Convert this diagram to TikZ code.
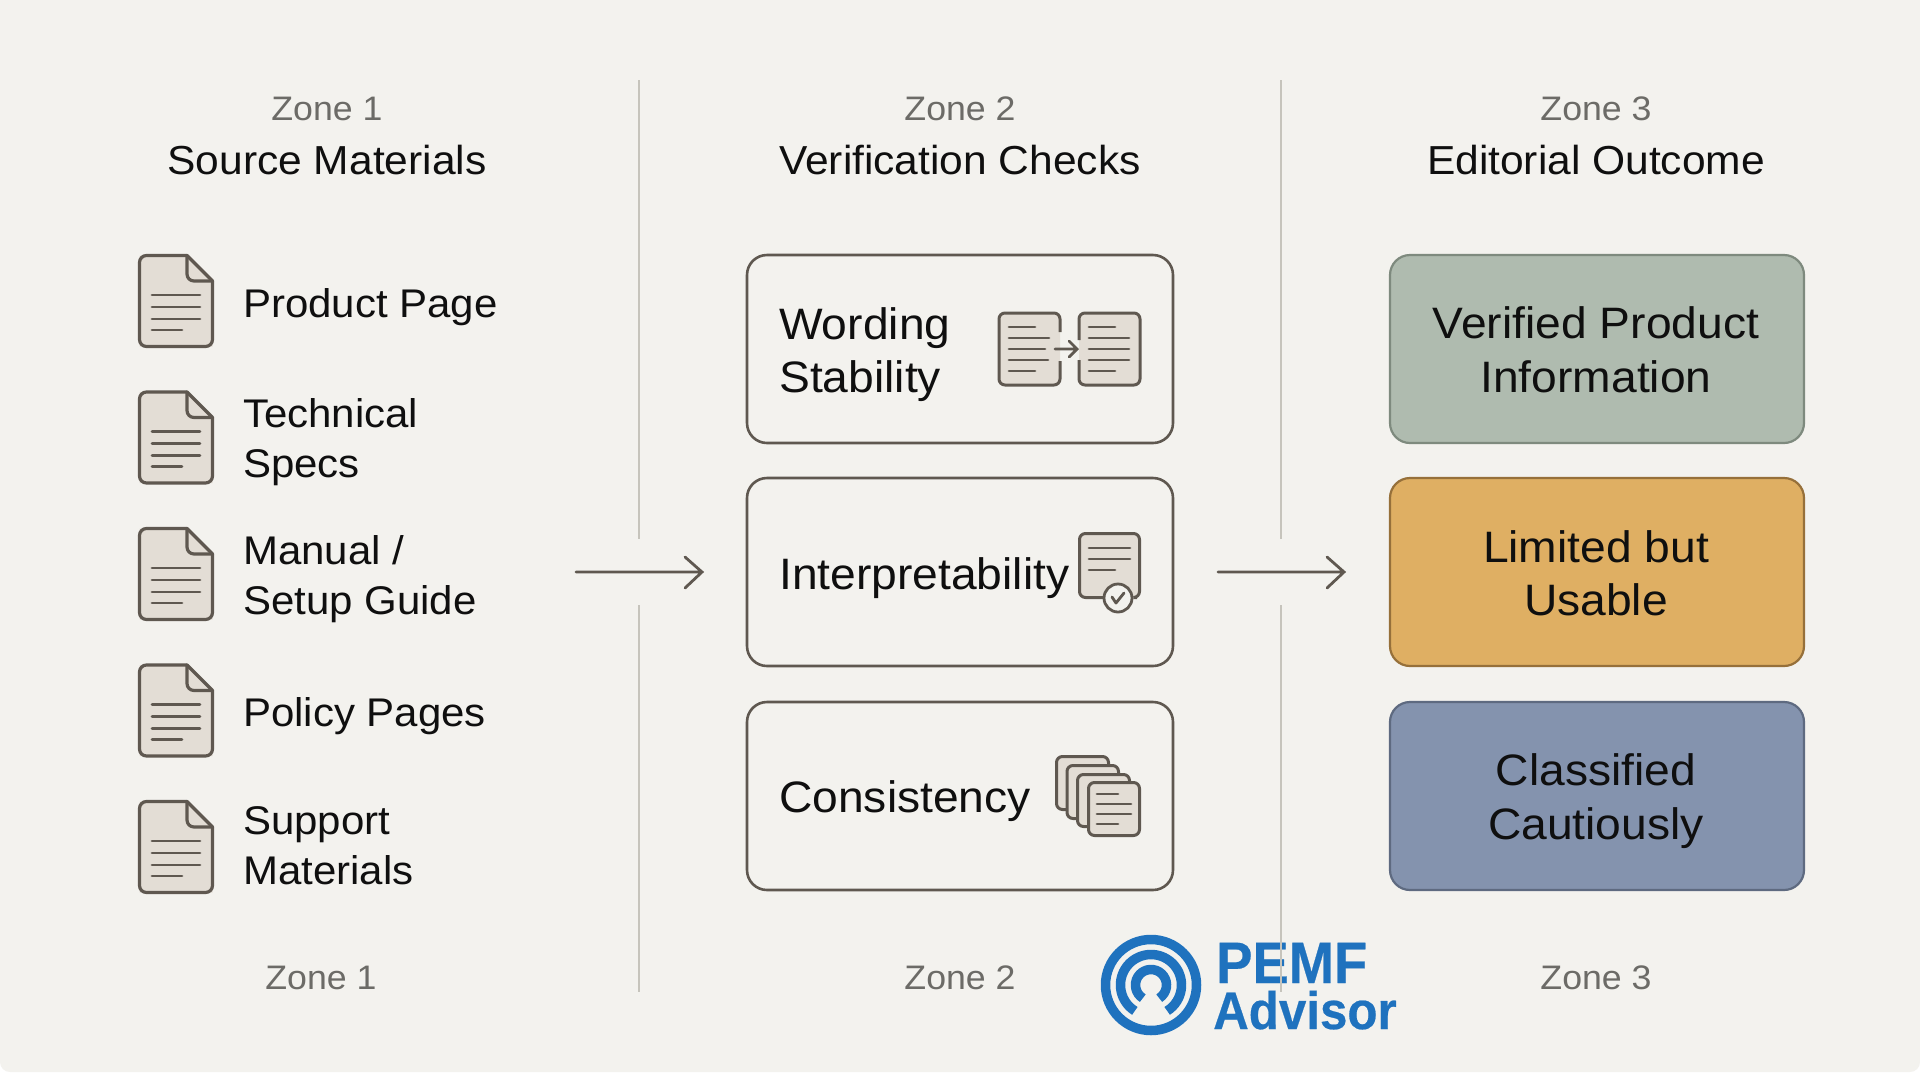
\documentclass[tikz,border=0pt]{standalone}
\usepackage{fontspec}
\setmainfont{Liberation Sans}[FakeStretch=1.05]
\newfontfamily\logofont{Liberation Sans}[FakeStretch=0.93,FakeBold=0.4]
\definecolor{bgc}{HTML}{F3F2EE}
\definecolor{ink}{HTML}{5F5850}
\definecolor{paper}{HTML}{E3DDD5}
\definecolor{divc}{HTML}{C6C4BC}
\definecolor{zonec}{HTML}{6C6B67}
\definecolor{txtc}{HTML}{0F0F0F}
\definecolor{greenb}{HTML}{AFBBAF}
\definecolor{greene}{HTML}{7E8A7E}
\definecolor{orangeb}{HTML}{DFAF63}
\definecolor{orangee}{HTML}{96703A}
\definecolor{blueb}{HTML}{8493AE}
\definecolor{bluee}{HTML}{5E6A80}
\definecolor{logoc}{HTML}{1F72BE}
\tikzset{
  zonelabel/.style={text=zonec,font=\fontsize{34}{40}\selectfont,inner sep=0pt,anchor=center},
  title/.style={text=txtc,font=\fontsize{40.5}{46}\selectfont,inner sep=0pt,anchor=center},
  item/.style={text=txtc,font=\fontsize{40}{50}\selectfont,inner sep=0pt,anchor=west,align=left},
  checkbox/.style={draw=ink,line width=2.6pt,rounded corners=20pt,fill=bgc},
  outcome/.style={line width=2.2pt,rounded corners=20pt},
  outcometext/.style={text=txtc,font=\fontsize{44}{53.5}\selectfont,inner sep=0pt,align=center,anchor=center},
  checktext/.style={text=txtc,font=\fontsize{44}{53.5}\selectfont,inner sep=0pt,align=left,anchor=west},
  divider/.style={draw=divc,line width=2pt},
  flow/.style={draw=ink,line width=2.8pt,line cap=round,line join=miter},
  iconl/.style={draw=ink,line width=2.8pt,line cap=round},
  icono/.style={draw=ink,line width=3.2pt,line cap=round},
  icond/.style={draw=ink,line width=3pt,fill=paper,rounded corners=6pt},
  logoring/.style={draw=logoc,line width=9.5pt,fill=none},
}
\newcommand{\docicon}[2]{%
  \begin{scope}[shift={(#1,#2)}]
    \fill[paper] (0,0) -- (47.5,0) -- (73,25.5) -- (73,91) -- (0,91) -- cycle;
    \draw[icono,rounded corners=7pt,line join=round] (47.5,0) -- (0,0) -- (0,91) -- (73,91) -- (73,25.5);
    \draw[icono,line join=round] (47.5,0) -- (73,25.5);
    \draw[icono,rounded corners=7pt] (47.5,0) -- (47.5,25.5) -- (73,25.5);
    \draw[iconl] (12.5,39.5) -- (60.5,39.5) (12.5,51.5) -- (60.5,51.5) (12.5,63.5) -- (60.5,63.5) (12.5,74.5) -- (42.5,74.5);
  \end{scope}}
\begin{document}
\begin{tikzpicture}[x=1pt,y=-1pt]
\useasboundingbox (0,0) rectangle (1920,1072);
\fill[white] (0,0) rectangle (1920,1072);
\fill[bgc,rounded corners=10pt] (0,-30) rectangle (1920,1072);

% logo (the divider runs over it)
\draw[logoring] (1151,985) circle[radius=45.5pt];
\draw[logoring] (1151,985) ++(238:30.5pt) arc[start angle=238,end angle=-58,radius=30.5pt];
\draw[logoring] (1151,985) ++(238:15.5pt) arc[start angle=238,end angle=-58,radius=15.5pt];
\node[inner sep=0pt,anchor=base west,text=logoc,font=\logofont\bfseries\fontsize{58.5}{58}\selectfont] (pemf) at (1216,983) {PEMF};
\node[inner sep=0pt,anchor=base west,text=logoc,font=\logofont\bfseries\fontsize{53}{53}\selectfont] (advisor) at (1213,1029) {Advisor};

% dividers
\coordinate (d1a) at (639,80); \coordinate (d1b) at (639,539);
\coordinate (d1c) at (639,605); \coordinate (d1d) at (639,992);
\coordinate (d2a) at (1281,80); \coordinate (d2b) at (1281,539);
\coordinate (d2c) at (1281,605); \coordinate (d2d) at (1281,992);
\draw[divider] (d1a) -- (d1b) (d1c) -- (d1d) (d2a) -- (d2b) (d2c) -- (d2d);

% headers
\node[zonelabel] (z1t) at (327,108.5) {Zone 1};
\node[title] (t1) at (327,160) {Source Materials};
\node[zonelabel] (z2t) at (960,108.5) {Zone 2};
\node[title] (t2) at (960,160) {Verification Checks};
\node[zonelabel] (z3t) at (1596,108.5) {Zone 3};
\node[title] (t3) at (1596,160) {Editorial Outcome};
\node[zonelabel] (z1b) at (321,978) {Zone 1};
\node[zonelabel] (z2b) at (960,978) {Zone 2};
\node[zonelabel] (z3b) at (1596,978) {Zone 3};

% source items
\docicon{139.5}{255.5}\docicon{139.5}{392}\docicon{139.5}{528.5}\docicon{139.5}{665}\docicon{139.5}{801.5}
\node[item] (s1) at (243,307) {Product Page};
\node[item] (s2) at (243,442.5) {Technical\\Specs};
\node[item] (s3) at (243,579.5) {Manual /\\Setup Guide};
\node[item] (s4) at (243,716) {Policy Pages};
\node[item] (s5) at (243,846) {Support\\Materials};

% check boxes
\draw[checkbox] (747,255) rectangle (1173,443);
\draw[checkbox] (747,478) rectangle (1173,666);
\draw[checkbox] (747,702) rectangle (1173,890);
\node[checktext] (c1) at (779,354.5) {Wording\\Stability};
\node[checktext] (c2) at (779,578) {Interpretability};
\node[checktext] (c3) at (779,801.5) {Consistency};

% wording icon
\fill[paper,rounded corners=6pt] (999,313) rectangle (1060,385);
\fill[paper,rounded corners=6pt] (1079,313) rectangle (1140,385);
\draw[icond,fill=none] (1060,332) -- (1060,313) -- (999,313) -- (999,385) -- (1060,385) -- (1060,361);
\draw[icond,fill=none] (1079,340) -- (1079,313) -- (1140,313) -- (1140,385) -- (1079,385) -- (1079,360);
\draw[iconl] (1009,327) -- (1035,327) (1009,338) -- (1049,338) (1009,349) -- (1045,349) (1009,360) -- (1048,360) (1009,371) -- (1035,371);
\draw[iconl] (1089,327) -- (1115,327) (1089,338) -- (1129,338) (1089,349) -- (1129,349) (1089,360) -- (1129,360) (1089,371) -- (1115,371);
\draw[iconl,line join=miter] (1055,349) -- (1077,349) (1069,341) -- (1077,349) -- (1069,357);

% interpretability icon
\fill[paper,rounded corners=6pt] (1079.5,533.5) rectangle (1139.5,597.5);
\draw[icond,fill=none] (1103,597.5) -- (1079.5,597.5) -- (1079.5,533.5) -- (1139.5,533.5) -- (1139.5,597.5) -- (1137,597.5);
\draw[iconl] (1089,548) -- (1130,548) (1089,559) -- (1130,559) (1089,570) -- (1115,570);
\draw[iconl,fill=bgc] (1118,598) circle[radius=14pt];
\draw[iconl,line join=round] (1112,597) -- (1116,603) -- (1124,593);

% consistency icon
\draw[icond] (1056.5,756.5) rectangle (1108.5,809.5);
\draw[icond] (1067,765.5) rectangle (1118.5,818.5);
\draw[icond] (1077.5,774.5) rectangle (1129.5,826.5);
\draw[icond] (1088.5,782.5) rectangle (1139.5,835.5);
\draw[iconl] (1097,794) -- (1118,794) (1097,804) -- (1131,804) (1097,814) -- (1131,814) (1097,824) -- (1118,824);

% outcomes
\draw[outcome,fill=greenb,draw=greene] (1390,255) rectangle (1804,443);
\draw[outcome,fill=orangeb,draw=orangee] (1390,478) rectangle (1804,666);
\draw[outcome,fill=blueb,draw=bluee] (1390,702) rectangle (1804,890);
\node[outcometext] (o1) at (1596,350) {Verified Product\\Information};
\node[outcometext] (o2) at (1596,573.5) {Limited but\\Usable};
\node[outcometext] (o3) at (1596,801) {Classified\\Cautiously};

% arrows
\coordinate (a1s) at (576,572); \coordinate (a1e) at (702,572);
\coordinate (a2s) at (1218,572); \coordinate (a2e) at (1344,572);
\draw[flow] (a1s) -- (a1e) (685,557) -- (a1e) -- (685,588);
\draw[flow] (a2s) -- (a2e) (1327,557) -- (a2e) -- (1327,588);
\end{tikzpicture}
\end{document}
